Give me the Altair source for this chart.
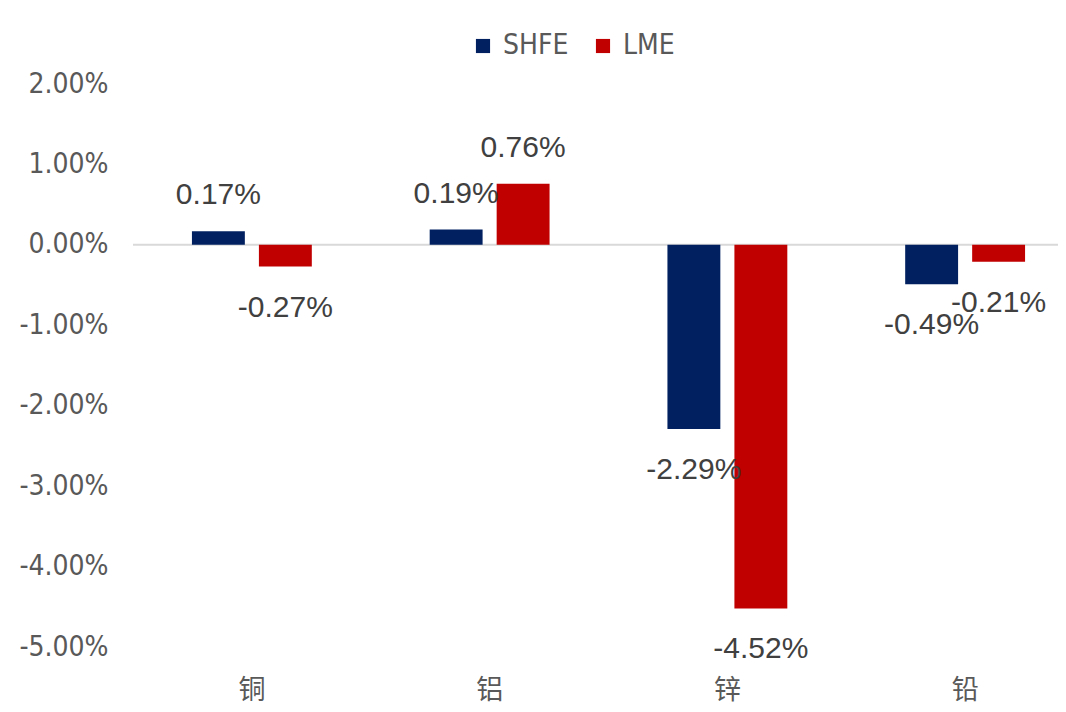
import altair as alt
import pandas as pd

categories = ["铜", "铝", "锌", "铅"]
series = ["SHFE", "LME"]
shfe_values = [0.17, 0.19, -2.29, -0.49]   # percent
lme_values = [-0.27, 0.76, -4.52, -0.21]   # percent
y_ticks = [-5, -4, -3, -2, -1, 0, 1, 2]     # percent
colors = ["#002060", "#C00000"]

rows = []
for c, s_v, l_v in zip(categories, shfe_values, lme_values):
    rows.append({"cat": c, "series": "SHFE", "value": s_v / 100})
    rows.append({"cat": c, "series": "LME", "value": l_v / 100})
df = pd.DataFrame(rows)

AXIS_FONT = "DejaVu Sans Condensed, DejaVu Sans, sans-serif"
LABEL_FONT = "Liberation Sans, Arial, sans-serif"
CJK_FONT = "Noto Sans CJK SC"

W, H = 925, 563

x_enc = alt.X("cat:N", sort=categories,
              scale=alt.Scale(range=[0, 951], paddingInner=0, paddingOuter=0),
              axis=alt.Axis(title=None, domain=False, ticks=False, labelAngle=0,
                            labelFont=CJK_FONT, labelFontSize=27, labelColor="#595959",
                            labelPadding=30))
xoff_enc = alt.XOffset("series:N", sort=series,
                       scale=alt.Scale(paddingInner=0.21, paddingOuter=0.88))
y_scale = alt.Scale(domain=[-0.05, 0.02], nice=False, zero=False)

base = alt.Chart(df).transform_calculate(
    label="replace(format(datum.value, '.2%'), '\u2212', '-')"
).encode(x=x_enc, xOffset=xoff_enc)

bars = base.mark_bar().encode(
    y=alt.Y("value:Q", scale=y_scale,
            axis=alt.Axis(title=None, domain=False, ticks=False, grid=False,
                          values=[v / 100 for v in y_ticks],
                          labelExpr="replace(format(datum.value, '.2%'), '\u2212', '-')",
                          labelFont=AXIS_FONT, labelFontSize=28, labelColor="#595959",
                          labelPadding=25)),
    color=alt.Color("series:N", sort=series,
                    scale=alt.Scale(domain=series, range=colors),
                    legend=alt.Legend(title=None, orient="none", direction="horizontal",
                                      legendX=336, legendY=-52, symbolType="square",
                                      symbolSize=200, symbolStrokeWidth=0,
                                      labelFont=AXIS_FONT, labelFontSize=28,
                                      labelColor="#595959", columnPadding=20,
                                      labelOffset=6)),
)

zero = alt.Chart(pd.DataFrame({"z": [0.0]})).mark_rule(color="#D9D9D9", strokeWidth=2).encode(
    y=alt.Y("z:Q", scale=y_scale), x=alt.value(0), x2=alt.value(W)
)

pos_labels = base.transform_filter("datum.value >= 0").mark_text(
    dy=-36, font=LABEL_FONT, fontSize=30, color="#404040", baseline="middle"
).encode(y=alt.Y("value:Q", scale=y_scale), text="label:N")

neg_labels = base.transform_filter("datum.value < 0").mark_text(
    dy=41, font=LABEL_FONT, fontSize=30, color="#404040", baseline="middle"
).encode(y=alt.Y("value:Q", scale=y_scale), text="label:N")

chart = alt.layer(zero, bars, pos_labels, neg_labels).properties(
    width=W, height=H,
    background="white",
    autosize=alt.AutoSizeParams(type="none"),
    padding={"left": 125, "top": 76, "right": 0, "bottom": 59},
).configure_view(stroke=None, strokeWidth=0)

chart.save("out.html", embed_options={"renderer": "svg", "actions": False})
